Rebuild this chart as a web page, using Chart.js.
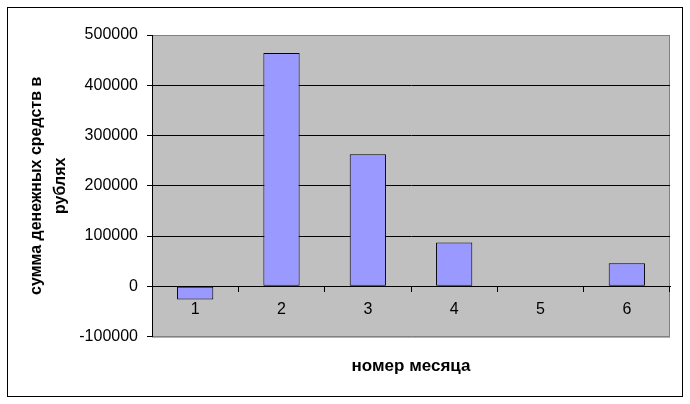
<!DOCTYPE html>
<html>
<head>
<meta charset="utf-8">
<script src="https://cdn.jsdelivr.net/npm/chart.js@4/dist/chart.umd.min.js"></script>
<style>
html,body{margin:0;padding:0;background:#fff;}
#wrap{width:690px;height:404px;position:relative;}
</style>
</head>
<body>
<div id="wrap"><canvas id="c" width="690" height="404"></canvas></div>
<script>
const categories = ['1', '2', '3', '4', '5', '6'];
const values = [-26000, 464000, 263000, 87000, 0, 46000];
const yTicks = [-100000, 0, 100000, 200000, 300000, 400000, 500000];
const yTitle = ['сумма денежных средств в', 'рублях'];
const xTitle = 'номер месяца';

const FONT = "'Liberation Sans', Arial, sans-serif";

const frame = {
  id: 'frame',
  beforeDraw(chart) {
    const {ctx, chartArea: a} = chart;
    ctx.save();
    ctx.fillStyle = '#c0c0c0';
    ctx.fillRect(a.left, a.top, a.right - a.left, a.bottom - a.top);
    ctx.strokeStyle = '#808080';
    ctx.lineWidth = 1;
    ctx.strokeRect(a.left + 0.5, a.top + 0.5, a.right - a.left - 1, a.bottom - a.top);
    ctx.strokeStyle = '#000';
    ctx.strokeRect(7.5, 7.5, 675, 389);
    ctx.restore();
  }
};

new Chart(document.getElementById('c'), {
  type: 'bar',
  data: {
    labels: categories,
    datasets: [{
      data: values,
      backgroundColor: '#9999ff',
      borderColor: '#000000',
      borderWidth: 1,
      borderSkipped: false,
      barPercentage: 0.42,
      categoryPercentage: 1.0
    }]
  },
  plugins: [frame],
  options: {
    responsive: false,
    animation: false,
    events: [],
    layout: { padding: { left: 8, right: 20, top: 35, bottom: 27 } },
    plugins: {
      legend: { display: false },
      tooltip: { enabled: false },
      title: {
        display: true,
        fullSize: false,
        position: 'bottom',
        text: xTitle,
        color: '#000',
        font: { family: FONT, size: 17, weight: 'bold', lineHeight: 1.2 },
        padding: { top: 20, bottom: 0 }
      }
    },
    scales: {
      x: {
        position: { y: 0 },
        offset: true,
        grid: {
          display: true,
          drawOnChartArea: false,
          drawTicks: true,
          tickLength: 5,
          color: '#000',
          offset: true
        },
        border: { display: true, color: '#000', width: 1 },
        ticks: {
          color: '#000',
          padding: 9,
          font: { family: FONT, size: 16 }
        }
      },
      y: {
        min: -100000,
        max: 500000,
        afterBuildTicks(scale) { scale.ticks = yTicks.map(v => ({ value: v })); },
        afterFit(scale) { scale.width = 144; },
        grid: {
          color: ctx => (ctx.tick && (ctx.tick.value === 500000 || ctx.tick.value === -100000)) ? '#808080' : '#000',
          tickColor: '#000',
          tickLength: 5,
          drawTicks: true
        },
        border: { display: true, color: '#000', width: 1 },
        ticks: {
          color: '#000',
          padding: 9,
          font: { family: FONT, size: 16 },
          callback: v => String(v)
        },
        title: {
          display: true,
          text: yTitle,
          color: '#000',
          font: { family: FONT, size: 16, weight: 'bold', lineHeight: 1.5 },
          padding: { top: 17, bottom: 0 }
        }
      }
    }
  }
});
</script>
</body>
</html>
